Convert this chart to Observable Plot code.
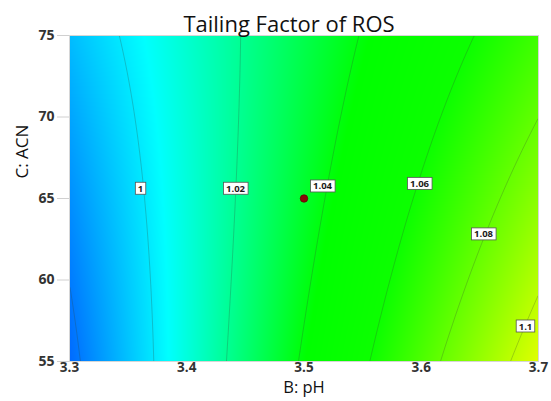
<!DOCTYPE html>
<html>
<head>
<meta charset="utf-8">
<script src="https://cdn.jsdelivr.net/npm/d3@7"></script>
<script src="https://cdn.jsdelivr.net/npm/@observablehq/plot@0.6"></script>
<style>
  body { margin: 0; background: #fff; }
  svg { font-family: "Open Sans", "Noto Sans", sans-serif; }
</style>
</head>
<body>
<div id="chart"></div>
<script>
// Factor ranges and tick values (B: pH, C: ACN)
const pHTicks = [3.3, 3.4, 3.5, 3.6, 3.7];
const acnTicks = [55, 60, 65, 70, 75];

// Quadratic response model in coded units, b = (pH - 3.5)/0.2, c = (ACN - 65)/10
const modelTerms = ["intercept", "b", "c", "bc", "b2", "c2"];
const modelCoefficients = [1.0353, 0.0526, -0.00545, -0.0129, 0.001, 0.0008];

// Contour levels and where their labels sit
const contourLevels = [0.98, 1, 1.02, 1.04, 1.06, 1.08, 1.1];
const labelLevels = [1, 1.02, 1.04, 1.06, 1.08, 1.1];
const labelPH = [3.3606, 3.4416, 3.5158, 3.5985, 3.6531, 3.6889];
const labelACN = [65.6, 65.6, 65.74, 65.9, 62.8, 57.15];

// Design centre point
const centerPH = [3.5];
const centerACN = [65];

// Colour ramp for the response
const colorStops = [0.958, 1.004, 1.042, 1.06, 1.115];
const colorRange = ["#0000ff", "#00ffff", "#00ff00", "#0cff00", "#ffff00"];

const coef = Object.fromEntries(modelTerms.map((t, i) => [t, modelCoefficients[i]]));
function tailing(pH, acn) {
  const b = (pH - 3.5) / 0.2;
  const c = (acn - 65) / 10;
  return coef.intercept + coef.b * b + coef.c * c + coef.bc * b * c + coef.b2 * b * b + coef.c2 * c * c;
}

const labels = labelLevels.map((v, i) => ({value: v, pH: labelPH[i], acn: labelACN[i]}));
const centers = centerPH.map((p, i) => ({pH: p, acn: centerACN[i]}));
const extent = {x1: 3.3, x2: 3.7, y1: 55, y2: 75};
const labelInk = "#1a1a1a";

const chart = Plot.plot({
  width: 551,
  height: 401,
  marginLeft: 69,
  marginRight: 13,
  marginTop: 35,
  marginBottom: 40,
  x: {domain: [3.3, 3.7]},
  y: {domain: [55, 75]},
  color: {type: "linear", domain: colorStops, range: colorRange, interpolate: "rgb", clamp: true},
  marks: [
    Plot.raster({fill: tailing, ...extent, pixelSize: 1}),
    Plot.contour({value: tailing, ...extent, pixelSize: 1, thresholds: contourLevels,
      fill: "none", stroke: "#334433", strokeOpacity: 0.3, strokeWidth: 0.85}),
    Plot.frame({stroke: "#d6d6d6"}),
    Plot.axisY({ticks: acnTicks, tickSize: 12, tickPadding: 3, stroke: "#d0d0d0", fill: "#333",
      fontSize: 14, fontWeight: 700, label: null, tickFormat: d3.format("d")}),
    Plot.axisX({ticks: pHTicks, tickSize: 0, tickPadding: 1, fill: "#333",
      fontSize: 13.5, fontWeight: 700, label: null, tickFormat: d3.format(".1f")}),
    Plot.dot(centers, {x: "pH", y: "acn", r: 3.8, fill: "#8b0a0a", stroke: "#5a0000", strokeWidth: 0.6}),
    Plot.text(labels, {x: "pH", y: "acn", text: d => String(d.value), fontSize: 9.5, fontWeight: 700,
      fill: labelInk}),
    Plot.text(["Tailing Factor of ROS"], {frameAnchor: "top", dy: -19, dx: -15, fontSize: 22, fill: "#111"}),
    Plot.text(["B: pH"], {frameAnchor: "bottom", dy: 31, fontSize: 16.5, fill: "#111"}),
    Plot.text(["C: ACN"], {frameAnchor: "left", dx: -47, dy: -20, rotate: -90, fontSize: 17, fill: "#111"})
  ]
});

document.getElementById("chart").append(chart);

// White boxed backgrounds behind the contour labels
chart.querySelectorAll(`g[fill="${labelInk}"] text`).forEach(t => {
  const bb = t.getBBox();
  const r = document.createElementNS("http://www.w3.org/2000/svg", "rect");
  r.setAttribute("x", bb.x - 2.5);
  r.setAttribute("y", bb.y + 0.5);
  r.setAttribute("width", bb.width + 5);
  r.setAttribute("height", bb.height - 1);
  r.setAttribute("fill", "#fff");
  r.setAttribute("stroke", "#555");
  r.setAttribute("stroke-width", 0.8);
  const tr = t.getAttribute("transform");
  if (tr) r.setAttribute("transform", tr);
  t.parentNode.insertBefore(r, t);
});
</script>
</body>
</html>
